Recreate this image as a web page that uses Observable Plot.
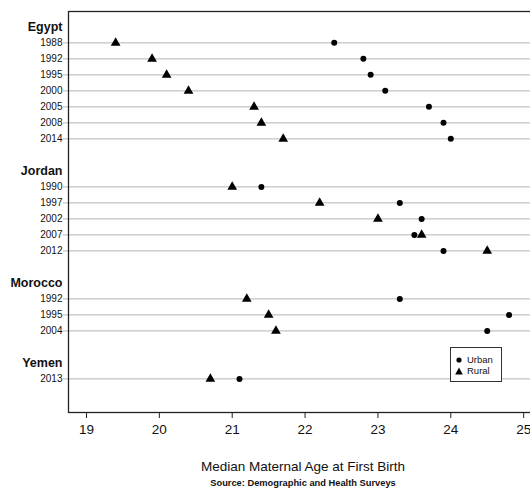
<!DOCTYPE html>
<html>
<head>
<meta charset="utf-8">
<script src="https://cdn.jsdelivr.net/npm/d3@7"></script>
<script src="https://cdn.jsdelivr.net/npm/@observablehq/plot@0.6"></script>
<style>
  html, body { margin: 0; padding: 0; background: #fff; overflow: hidden; }
  #wrap { position: relative; width: 530px; height: 489px; overflow: hidden; font-family: "Liberation Sans", Arial, sans-serif; }
  #wrap svg.plot { max-width: none !important; }
  #legend { position: absolute; left: 450px; top: 347px; width: 52px; height: 35px; border: 1px solid #333; background: #fff; box-sizing: border-box; font-size: 9.5px; color: #111; }
  #legend div { position: absolute; left: 4px; display: flex; align-items: center; gap: 4px; }
  #legend svg { display: block; }
</style>
</head>
<body>
<div id="wrap"></div>
<script>
const countries = ["Egypt", "Jordan", "Morocco", "Yemen"];
const surveyYears = [
  ["1988", "1992", "1995", "2000", "2005", "2008", "2014"],
  ["1990", "1997", "2002", "2007", "2012"],
  ["1992", "1995", "2004"],
  ["2013"]
];
const urban = [
  [22.4, 22.8, 22.9, 23.1, 23.7, 23.9, 24.0],
  [21.4, 23.3, 23.6, 23.5, 23.9],
  [23.3, 24.8, 24.5],
  [21.1]
];
const rural = [
  [19.4, 19.9, 20.1, 20.4, 21.3, 21.4, 21.7],
  [21.0, 22.2, 23.0, 23.6, 24.5],
  [21.2, 21.5, 21.6],
  [20.7]
];
const xTicks = [19, 20, 21, 22, 23, 24, 25];

// Build row layout: header row, survey rows, blank row
const headers = [];
const rows = [];
let r = 0;
countries.forEach((c, i) => {
  headers.push({country: c, row: r});
  r++;
  surveyYears[i].forEach((y, j) => {
    rows.push({country: c, year: y, row: r, urban: urban[i][j], rural: rural[i][j]});
    r++;
  });
  r++;
});
const rowLabel = new Map(rows.map(d => [d.row, d.year]));

const font = "Liberation Sans, Arial, sans-serif";

const chart = Plot.plot({
  width: 545,
  height: 489,
  marginLeft: 68,
  marginRight: 8,
  marginTop: 11,
  marginBottom: 77,
  style: {fontFamily: font, background: "#fff", color: "#111", maxWidth: "none"},
  x: {domain: [18.753, 25.19]},
  y: {domain: [-0.96, 24.1], reverse: true},
  marks: [
    Plot.gridY(rows.map(d => d.row), {stroke: "#b4b4b4", strokeOpacity: 1, strokeWidth: 1}),
    Plot.axisY(rows.map(d => d.row), {
      tickFormat: d => rowLabel.get(d),
      tickSize: 5, tickPadding: 1, stroke: "#b4b4b4", fontSize: 10, fill: "#111", label: null
    }),
    Plot.axisX(xTicks, {
      tickSize: 6, tickPadding: 6, fontSize: 13.5, fill: "#111", stroke: "#222", label: null
    }),
    Plot.text(headers, {
      y: "row", text: "country", frameAnchor: "left", dx: -6,
      textAnchor: "end", fontWeight: "bold", fontSize: 12.5, fill: "#111"
    }),
    Plot.frame({stroke: "#222", strokeWidth: 1.3}),
    Plot.dot(rows, {x: "urban", y: "row", symbol: "circle", r: 3, fill: "#000", stroke: "none"}),
    Plot.dot(rows, {x: "rural", y: "row", symbol: "triangle", r: 3.6, fill: "#000", stroke: "none"}),
    Plot.text(["Median Maternal Age at First Birth"], {
      frameAnchor: "bottom", dy: 54, text: d => d, fontSize: 13.5, fill: "#111", lineAnchor: "middle"
    }),
    Plot.text(["Source: Demographic and Health Surveys"], {
      frameAnchor: "bottom", dy: 71, text: d => d, fontSize: 9.3, fontWeight: "bold", fill: "#111", lineAnchor: "middle"
    })
  ]
});
const wrap = document.getElementById("wrap");
wrap.appendChild(chart);

const legend = document.createElement("div");
legend.id = "legend";
legend.innerHTML = `
  <div style="top:6px"><svg width="8" height="8"><circle cx="4" cy="4" r="2.6" fill="#000"/></svg><span>Urban</span></div>
  <div style="top:17px"><svg width="8" height="8"><path d="M4,0.5L7.8,7.5L0.2,7.5Z" fill="#000"/></svg><span>Rural</span></div>`;
wrap.appendChild(legend);
</script>
</body>
</html>
